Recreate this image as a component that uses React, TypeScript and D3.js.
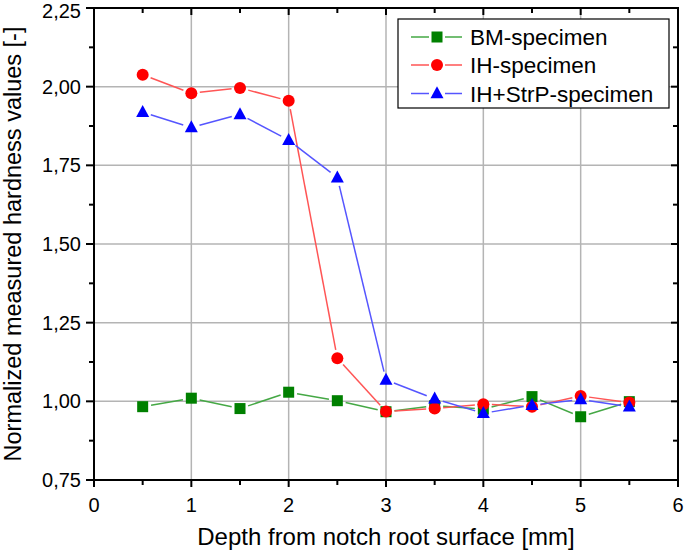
import React from "react";
import * as d3 from "d3";

const depth = [0.5, 1, 1.5, 2, 2.5, 3, 3.5, 4, 4.5, 5, 5.5];
const bmValues = [0.983, 1.01, 0.977, 1.029, 1.002, 0.967, 0.986, 0.975, 1.015, 0.951, 0.999];
const ihValues = [2.038, 1.979, 1.996, 1.955, 1.137, 0.968, 0.977, 0.991, 0.983, 1.017, 0.996];
const ihStrpValues = [1.919, 1.87, 1.912, 1.83, 1.711, 1.068, 1.008, 0.962, 0.988, 1.006, 0.983];

const xTicks = [0, 1, 2, 3, 4, 5, 6];
const xMinorTicks = [0.5, 1.5, 2.5, 3.5, 4.5, 5.5];
const yTicks = [0.75, 1.0, 1.25, 1.5, 1.75, 2.0, 2.25];
const yMinorTicks = [0.875, 1.125, 1.375, 1.625, 1.875, 2.125];
const yTickLabels = ["0,75", "1,00", "1,25", "1,50", "1,75", "2,00", "2,25"];

const seriesNames = ["BM-specimen", "IH-specimen", "IH+StrP-specimen"];

const W = 685;
const H = 551;
const L = 94, R = 678, T = 8, B = 480;

type Series = {
  name: string;
  values: number[];
  fill: string;
  line: string;
  shape: "square" | "circle" | "triangle";
};

const series: Series[] = [
  { name: seriesNames[0], values: bmValues, fill: "#008000", line: "#45a845", shape: "square" },
  { name: seriesNames[1], values: ihValues, fill: "#ff0000", line: "#ff5555", shape: "circle" },
  { name: seriesNames[2], values: ihStrpValues, fill: "#0000ff", line: "#5555ff", shape: "triangle" },
];

const FONT = "Liberation Sans, Arial, Helvetica, sans-serif";

function Marker({ shape, x, y, fill }: { shape: string; x: number; y: number; fill: string }) {
  if (shape === "circle") return <circle cx={x} cy={y} r={6} fill={fill} />;
  if (shape === "square") return <rect x={x - 5.5} y={y - 5.5} width={11} height={11} fill={fill} />;
  const s = 13;
  const h = 12;
  return (
    <path
      d={`M${x},${y - h * 0.6}L${x + s / 2},${y + h * 0.4}L${x - s / 2},${y + h * 0.4}Z`}
      fill={fill}
    />
  );
}

export default function App() {
  const x = d3.scaleLinear().domain([0, 6]).range([L, R]);
  const y = d3.scaleLinear().domain([0.75, 2.25]).range([B, T]);
  const gap = 8.5;

  const segments = (s: Series) => {
    const pts = depth.map((d, i) => [x(d), y(s.values[i])]);
    const segs: { x1: number; y1: number; x2: number; y2: number }[] = [];
    for (let i = 0; i < pts.length - 1; i++) {
      const [ax, ay] = pts[i];
      const [bx, by] = pts[i + 1];
      const dx = bx - ax, dy = by - ay;
      const len = Math.hypot(dx, dy);
      if (len <= 2 * gap) continue;
      const ux = dx / len, uy = dy / len;
      segs.push({ x1: ax + ux * gap, y1: ay + uy * gap, x2: bx - ux * gap, y2: by - uy * gap });
    }
    return segs;
  };

  const legendRows = [37, 65, 93.5];

  return (
    <svg
      width={W}
      height={H}
      style={{ position: "absolute", left: 0, top: 0, background: "#fff" }}
      fontFamily={FONT}
    >
      <rect x={0} y={0} width={W} height={H} fill="#fff" />
      {/* grid */}
      {xTicks.slice(1, -1).map((t) => (
        <line key={"gx" + t} x1={x(t)} x2={x(t)} y1={T} y2={B} stroke="#b4b4b4" strokeWidth={1.5} />
      ))}
      {yTicks.slice(1, -1).map((t) => (
        <line key={"gy" + t} x1={L} x2={R} y1={y(t)} y2={y(t)} stroke="#b4b4b4" strokeWidth={1.5} />
      ))}

      {/* series lines */}
      {series.map((s) => (
        <g key={"l" + s.name}>
          {segments(s).map((g, i) => (
            <line key={i} x1={g.x1} y1={g.y1} x2={g.x2} y2={g.y2} stroke={s.line} strokeWidth={1.5} />
          ))}
        </g>
      ))}
      {/* markers */}
      {series.map((s) => (
        <g key={"m" + s.name}>
          {depth.map((d, i) => (
            <Marker key={i} shape={s.shape} x={x(d)} y={y(s.values[i])} fill={s.fill} />
          ))}
        </g>
      ))}

      {/* frame */}
      <rect x={L} y={T} width={R - L} height={B - T} fill="none" stroke="#000" strokeWidth={2} />

      {/* bottom ticks */}
      {xTicks.map((t) => (
        <g key={"xt" + t}>
          <line x1={x(t)} x2={x(t)} y1={B} y2={B + 7} stroke="#000" strokeWidth={2} />
          <line x1={x(t)} x2={x(t)} y1={T} y2={T + 7} stroke="#000" strokeWidth={2} />
          <text x={x(t)} y={512} textAnchor="middle" fontSize={20} fill="#000">
            {t}
          </text>
        </g>
      ))}
      {xMinorTicks.map((t) => (
        <g key={"xm" + t}>
          <line x1={x(t)} x2={x(t)} y1={B} y2={B + 5} stroke="#000" strokeWidth={2} />
          <line x1={x(t)} x2={x(t)} y1={T} y2={T + 5} stroke="#000" strokeWidth={2} />
        </g>
      ))}
      {/* left / right ticks */}
      {yTicks.map((t, i) => (
        <g key={"yt" + t}>
          <line x1={L - 8} x2={L} y1={y(t)} y2={y(t)} stroke="#000" strokeWidth={2} />
          <line x1={R - 7} x2={R} y1={y(t)} y2={y(t)} stroke="#000" strokeWidth={2} />
          <text x={81} y={Math.max(y(t) + 7, 18)} textAnchor="end" fontSize={20} fill="#000">
            {yTickLabels[i]}
          </text>
        </g>
      ))}
      {yMinorTicks.map((t) => (
        <g key={"ym" + t}>
          <line x1={L - 5} x2={L} y1={y(t)} y2={y(t)} stroke="#000" strokeWidth={2} />
          <line x1={R - 5} x2={R} y1={y(t)} y2={y(t)} stroke="#000" strokeWidth={2} />
        </g>
      ))}

      {/* axis titles */}
      <text x={386} y={545} textAnchor="middle" fontSize={24} fill="#000">
        Depth from notch root surface [mm]
      </text>
      <text
        transform={`translate(21,244) rotate(-90)`}
        textAnchor="middle"
        fontSize={23.5}
        fill="#000"
      >
        Normalized measured hardness values [-]
      </text>

      {/* legend */}
      <rect x={398} y={19} width={271} height={89} fill="#fff" stroke="#000" strokeWidth={1.2} />
      {series.map((s, i) => (
        <g key={"lg" + s.name}>
          <line x1={411} x2={429} y1={legendRows[i]} y2={legendRows[i]} stroke={s.line} strokeWidth={1.5} />
          <line x1={445} x2={462} y1={legendRows[i]} y2={legendRows[i]} stroke={s.line} strokeWidth={1.5} />
          <Marker shape={s.shape} x={437} y={legendRows[i]} fill={s.fill} />
          <text x={470} y={legendRows[i] + 8} fontSize={22.5} fill="#000">
            {s.name}
          </text>
        </g>
      ))}
    </svg>
  );
}
